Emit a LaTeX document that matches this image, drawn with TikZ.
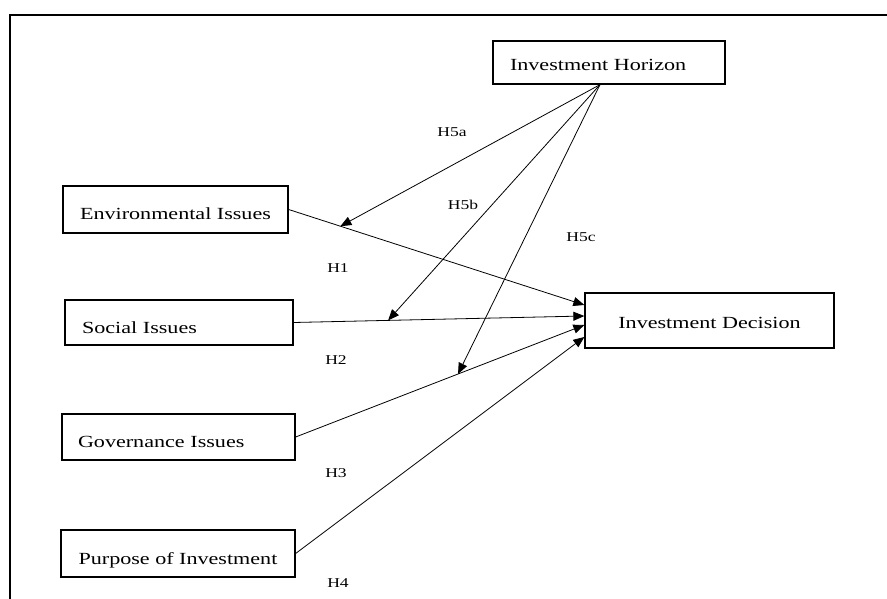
\documentclass[tikz,border=0pt]{standalone}
\usepackage{fontspec}
\setmainfont{Liberation Serif}[FakeStretch=1.3]
\usetikzlibrary{arrows.meta,calc}
\tikzset{
  box/.style={draw, line width=1.3pt, inner sep=0pt, font=\fontsize{17}{19}\selectfont, text depth=0pt},
  lbl/.style={font=\fontsize{13.5}{15}\selectfont, inner sep=0pt},
  conn/.style={line width=0.8pt, -{Triangle[length=11pt,width=9pt]}},
}
\begin{document}
\begin{tikzpicture}[x=1pt,y=-1pt]
\useasboundingbox (0,0) rectangle (887,599);
\draw[line width=1.8pt] (10,599) -- (10,15) -- (887,15);

\node[box, minimum width=232pt, minimum height=43pt, text width=198pt, align=left, text height=16pt] (hz) at (609,62.5) {Investment Horizon};
\node[box, minimum width=225pt, minimum height=47pt, text height=21pt] (env) at (175.5,209.5) {Environmental Issues};
\node[box, minimum width=228pt, minimum height=45pt, text width=194pt, align=left, text height=22pt] (soc) at (179,322.5) {Social Issues};
\node[box, minimum width=233pt, minimum height=46pt, text width=201pt, align=left, text height=21pt] (gov) at (178.5,437) {Governance Issues};
\node[box, minimum width=234pt, minimum height=47pt, text height=22pt] (pur) at (178,553.5) {Purpose of Investment};
\node[box, minimum width=249pt, minimum height=55pt, text height=15pt] (dec) at (709.5,320.5) {Investment Decision};

\coordinate (d1) at ([yshift=15.5pt]dec.west);
\coordinate (d2) at ([yshift=4.5pt]dec.west);
\coordinate (d3) at ([yshift=-4.5pt]dec.west);
\coordinate (d4) at ([yshift=-16.5pt]dec.west);
\coordinate (o) at ([xshift=-9pt]hz.south);

\draw[conn] (env.east) -- (d1);
\draw[conn] (soc.east) -- (d2);
\draw[conn] (gov.east) -- (d3);
\draw[conn] (pur.east) -- (d4);
\draw[conn] (o) -- ($(env.east)!0.175!(d1)$);
\draw[conn] (o) -- ($(soc.east)!0.325!(d2)$);
\draw[conn] (o) -- ($(gov.east)!0.5625!(d3)$);

\node[lbl] (h5a) at (452,132) {H5a};
\node[lbl] (h5b) at (463,205) {H5b};
\node[lbl] (h5c) at (581,237) {H5c};
\node[lbl] (h1) at (338,268) {H1};
\node[lbl] (h2) at (336,360) {H2};
\node[lbl] (h3) at (336,473) {H3};
\node[lbl] (h4) at (338,583) {H4};
\end{tikzpicture}
\end{document}
